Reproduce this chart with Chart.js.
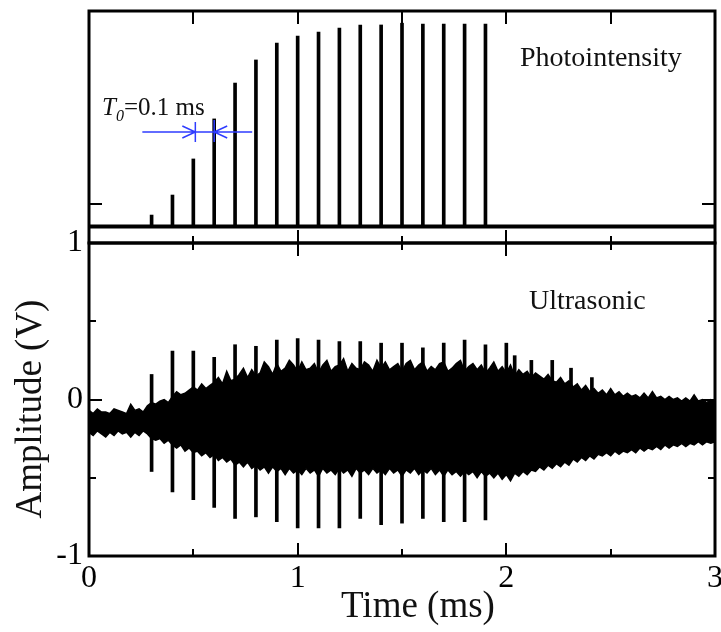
<!DOCTYPE html>
<html><head><meta charset="utf-8">
<script src="https://cdn.jsdelivr.net/npm/chart.js@4/dist/chart.umd.min.js"></script>
<style>
html,body{margin:0;padding:0;background:#fff;}
#wrap{position:relative;width:721px;height:632px;overflow:hidden;background:#fff;}
canvas{position:absolute;left:0;top:0;}
</style></head><body>
<div id="wrap"><canvas id="c1" width="721" height="632"></canvas><canvas id="c2" width="721" height="632"></canvas></div>
<script>
// ---------- data ----------
const xTickValues = [0, 0.5, 1, 1.5, 2, 2.5, 3];
const xTickLabels = ['0', '', '1', '', '2', '', '3'];
const ampTickValues = [-1, -0.5, 0, 0.5, 1];
const ampTickLabels = ['-1', '', '0', '', '1'];
const photoTickValues = [1];

// Photointensity: pulse train (arbitrary units)
const pulseTimes = [0.3, 0.4, 0.5, 0.6, 0.7, 0.8, 0.9, 1.0, 1.1, 1.2, 1.3, 1.4, 1.5, 1.6, 1.7, 1.8, 1.9];
const photoPeaks = [0.52, 1.43, 3.07, 4.89, 6.52, 7.57, 8.34, 8.66, 8.84, 9.02, 9.16, 9.16, 9.24, 9.20, 9.20, 9.20, 9.20];
const photoBaseTimes = [0, 3];
const photoBaseValues = [0, 0];

// Ultrasonic: envelope of the waveform (V)
const usTimes = [0.00,0.02,0.04,0.06,0.08,0.10,0.12,0.14,0.16,0.18,0.20,0.22,0.24,0.26,0.28,0.30,0.32,0.34,0.36,0.38,
0.40,0.42,0.44,0.46,0.48,0.50,0.52,0.54,0.56,0.58,0.60,0.62,0.64,0.66,0.68,0.70,0.72,0.74,0.76,0.78,
0.80,0.82,0.84,0.86,0.88,0.90,0.92,0.94,0.96,0.98,1.00,1.02,1.04,1.06,1.08,1.10,1.12,1.14,1.16,1.18,
1.20,1.22,1.24,1.26,1.28,1.30,1.32,1.34,1.36,1.38,1.40,1.42,1.44,1.46,1.48,1.50,1.52,1.54,1.56,1.58,
1.60,1.62,1.64,1.66,1.68,1.70,1.72,1.74,1.76,1.78,1.80,1.82,1.84,1.86,1.88,1.90,1.92,1.94,1.96,1.98,
2.00,2.02,2.04,2.06,2.08,2.10,2.12,2.14,2.16,2.18,2.20,2.22,2.24,2.26,2.28,2.30,2.32,2.34,2.36,2.38,
2.40,2.42,2.44,2.46,2.48,2.50,2.52,2.54,2.56,2.58,2.60,2.62,2.64,2.66,2.68,2.70,2.72,2.74,2.76,2.78,
2.80,2.82,2.84,2.86,2.88,2.90,2.92,2.94,2.96,2.98,3.00];
const usUpper = [-0.07,-0.09,-0.06,-0.08,-0.08,-0.09,-0.06,-0.07,-0.08,-0.09,-0.03,-0.07,-0.06,-0.08,-0.04,-0.02,-0.03,-0.01,0.00,-0.02,
0.02,0.05,0.03,0.04,0.06,0.08,0.06,0.10,0.07,0.09,0.11,0.14,0.10,0.18,0.12,0.13,0.16,0.20,0.14,0.19,
0.15,0.17,0.24,0.21,0.16,0.23,0.18,0.20,0.25,0.22,0.18,0.24,0.19,0.20,0.23,0.17,0.22,0.25,0.18,0.21,
0.22,0.26,0.18,0.23,0.20,0.19,0.24,0.22,0.18,0.25,0.20,0.24,0.19,0.21,0.23,0.18,0.23,0.25,0.19,0.22,
0.24,0.18,0.21,0.19,0.23,0.24,0.18,0.20,0.23,0.25,0.18,0.21,0.23,0.19,0.22,0.17,0.20,0.24,0.18,0.21,
0.17,0.22,0.15,0.19,0.16,0.18,0.14,0.17,0.15,0.13,0.16,0.12,0.11,0.14,0.10,0.12,0.08,0.10,0.06,0.09,
0.05,0.07,0.04,0.06,0.03,0.07,0.03,0.05,0.02,0.04,0.02,0.03,0.01,0.04,0.01,0.05,0.01,0.02,0.00,0.02,
0.00,0.01,-0.01,0.01,-0.01,0.03,-0.01,0.00,-0.02,0.00,-0.01];
const usLower = [-0.21,-0.23,-0.20,-0.22,-0.24,-0.21,-0.23,-0.20,-0.22,-0.21,-0.24,-0.21,-0.23,-0.20,-0.22,-0.25,-0.26,-0.25,-0.28,-0.26,
-0.29,-0.31,-0.29,-0.33,-0.31,-0.34,-0.33,-0.36,-0.34,-0.37,-0.35,-0.39,-0.37,-0.40,-0.38,-0.42,-0.40,-0.43,-0.40,-0.44,
-0.42,-0.45,-0.43,-0.47,-0.43,-0.46,-0.44,-0.48,-0.44,-0.47,-0.45,-0.48,-0.44,-0.47,-0.45,-0.49,-0.44,-0.47,-0.45,-0.48,
-0.44,-0.47,-0.45,-0.49,-0.44,-0.47,-0.45,-0.48,-0.44,-0.47,-0.45,-0.48,-0.44,-0.47,-0.45,-0.49,-0.45,-0.47,-0.44,-0.48,
-0.45,-0.47,-0.44,-0.48,-0.45,-0.49,-0.45,-0.48,-0.46,-0.49,-0.46,-0.48,-0.46,-0.50,-0.46,-0.49,-0.47,-0.50,-0.47,-0.51,
-0.48,-0.52,-0.47,-0.49,-0.46,-0.48,-0.45,-0.46,-0.43,-0.45,-0.42,-0.44,-0.41,-0.43,-0.40,-0.42,-0.38,-0.40,-0.37,-0.39,
-0.36,-0.38,-0.35,-0.36,-0.34,-0.36,-0.33,-0.35,-0.33,-0.34,-0.32,-0.34,-0.31,-0.33,-0.31,-0.32,-0.30,-0.32,-0.29,-0.31,
-0.29,-0.30,-0.28,-0.30,-0.28,-0.29,-0.27,-0.29,-0.27,-0.28,-0.27];
// Sharp excursions of the ultrasonic trace (V)
const usSpikeTimes = [0.3, 0.4, 0.5, 0.6, 0.7, 0.8, 0.9, 1.0, 1.1, 1.2, 1.3, 1.4, 1.5, 1.6, 1.7, 1.8, 1.9, 2.0, 2.04, 2.12, 2.22, 2.31, 2.41];
const usSpikeHigh = [0.16, 0.31, 0.31, 0.27, 0.35, 0.34, 0.38, 0.39, 0.38, 0.37, 0.37, 0.36, 0.36, 0.33, 0.36, 0.38, 0.35, 0.36, 0.28, 0.25, 0.25, 0.20, 0.14];
const usSpikeLow = [-0.46, -0.59, -0.64, -0.69, -0.76, -0.75, -0.78, -0.82, -0.82, -0.82, -0.76, -0.80, -0.79, -0.76, -0.78, -0.78, -0.77, -0.30, -0.30, -0.30, -0.30, -0.30, -0.30];

// ---------- helpers ----------
const SERIF = '"Liberation Serif", "Times New Roman", serif';
const BLUE = '#2f3cff';

function drawFrameAndTicks(chart, yTicks, topAllLong) {
  const {ctx, chartArea: a, scales} = chart;
  const xs = scales.x, ys = scales.y;
  ctx.save();
  ctx.strokeStyle = '#000';
  ctx.lineWidth = 2;
  ctx.beginPath();
  xTickValues.forEach(v => {
    if (v <= xs.min || v >= xs.max) return;
    const px = Math.round(xs.getPixelForValue(v));
    const major = Number.isInteger(v);
    const lb = major ? 13 : 7;
    const lt = topAllLong ? 13 : lb;
    ctx.moveTo(px, a.bottom); ctx.lineTo(px, a.bottom - lb);
    ctx.moveTo(px, a.top); ctx.lineTo(px, a.top + lt);
  });
  yTicks.forEach(v => {
    if (v <= ys.min || v >= ys.max) return;
    const py = Math.round(ys.getPixelForValue(v));
    const l = Number.isInteger(v) ? 13 : 7;
    ctx.moveTo(a.left, py); ctx.lineTo(a.left + l, py);
    ctx.moveTo(a.right, py); ctx.lineTo(a.right - l, py);
  });
  ctx.stroke();
  ctx.lineWidth = 3;
  ctx.strokeRect(a.left, a.top, a.right - a.left, a.bottom - a.top);
  ctx.restore();
}

const topDeco = {
  id: 'topDeco',
  afterDatasetsDraw(chart) {
    const {ctx, scales} = chart;
    drawFrameAndTicks(chart, photoTickValues, true);
    ctx.save();
    ctx.fillStyle = '#111';
    ctx.textBaseline = 'alphabetic';
    ctx.font = '28px ' + SERIF;
    ctx.fillText('Photointensity', 520, 66);
    // T0 = 0.1 ms annotation
    ctx.font = 'italic 25px ' + SERIF;
    ctx.fillText('T', 102, 115);
    ctx.font = 'italic 16px ' + SERIF;
    ctx.fillText('0', 116, 121);
    ctx.font = '25px ' + SERIF;
    ctx.fillText('=0.1 ms', 124, 115);
    // arrows between two successive pulses
    const x1 = scales.x.getPixelForValue(pulseTimes[2]) + 2;
    const x2 = scales.x.getPixelForValue(pulseTimes[3]);
    const y = 132;
    ctx.strokeStyle = BLUE;
    ctx.lineWidth = 1.5;
    ctx.beginPath();
    ctx.moveTo(x1 - 53, y); ctx.lineTo(x2 + 38, y);
    ctx.moveTo(x1, y - 10); ctx.lineTo(x1, y + 10);
    ctx.moveTo(x2, y - 12); ctx.lineTo(x2, y + 10);
    ctx.moveTo(x1 - 13, y - 6); ctx.lineTo(x1, y); ctx.lineTo(x1 - 13, y + 6);
    ctx.moveTo(x2 + 13, y - 6); ctx.lineTo(x2, y); ctx.lineTo(x2 + 13, y + 6);
    ctx.stroke();
    ctx.restore();
  }
};

const botDeco = {
  id: 'botDeco',
  afterDatasetsDraw(chart) {
    const {ctx} = chart;
    drawFrameAndTicks(chart, ampTickValues, false);
    ctx.save();
    ctx.fillStyle = '#111';
    ctx.font = '28px ' + SERIF;
    ctx.textBaseline = 'alphabetic';
    ctx.fillText('Ultrasonic', 529, 309);
    ctx.font = '37px ' + SERIF;
    ctx.textAlign = 'center';
    ctx.fillText('Time (ms)', 418, 617);
    ctx.translate(31, 409);
    ctx.rotate(-Math.PI / 2);
    ctx.textBaseline = 'middle';
    ctx.fillText('Amplitude (V)', 0, 0);
    ctx.restore();
  }
};

// ---------- top chart: photointensity ----------
new Chart(document.getElementById('c1'), {
  type: 'line',
  data: {
    datasets: [
      {
        type: 'line',
        data: photoBaseTimes.map((t, i) => ({x: t, y: photoBaseValues[i]})),
        borderColor: '#000', borderWidth: 4, pointRadius: 0, fill: false
      },
      {
        type: 'bar',
        data: pulseTimes.map((t, i) => ({x: t, y: [0, photoPeaks[i]]})),
        backgroundColor: '#000', borderWidth: 0, barThickness: 3
      }
    ]
  },
  options: {
    responsive: false, animation: false, devicePixelRatio: 1,
    layout: {padding: {left: 89, top: 11, right: 6, bottom: 389}},
    plugins: {legend: {display: false}, tooltip: {enabled: false}},
    scales: {
      x: {type: 'linear', min: 0, max: 3, display: false, offset: false},
      y: {type: 'linear', min: -0.75, max: 9.795, display: false}
    }
  },
  plugins: [topDeco]
});

// ---------- bottom chart: ultrasonic ----------
new Chart(document.getElementById('c2'), {
  type: 'line',
  data: {
    datasets: [
      {
        type: 'line',
        data: usTimes.map((t, i) => ({x: t, y: usUpper[i]})),
        borderColor: '#000', borderWidth: 1.5, pointRadius: 0, tension: 0,
        backgroundColor: '#000', fill: {value: -0.17}
      },
      {
        type: 'line',
        data: usTimes.map((t, i) => ({x: t, y: usLower[i]})),
        borderColor: '#000', borderWidth: 1.5, pointRadius: 0, tension: 0,
        backgroundColor: '#000', fill: {value: -0.13}
      },
      {
        type: 'bar',
        data: usSpikeTimes.map((t, i) => ({x: t, y: [usSpikeLow[i], usSpikeHigh[i]]})),
        backgroundColor: '#000', borderWidth: 0, barThickness: 3
      }
    ]
  },
  options: {
    responsive: false, animation: false, devicePixelRatio: 1,
    layout: {padding: {left: 0, top: 243, right: 6, bottom: 0}},
    plugins: {legend: {display: false}, tooltip: {enabled: false}},
    scales: {
      x: {
        type: 'linear', min: 0, max: 3, position: 'bottom', offset: false,
        afterBuildTicks: s => { s.ticks = xTickValues.map(v => ({value: v})); },
        ticks: {autoSkip: false, maxRotation: 0, padding: 3, color: '#000',
          font: {family: SERIF, size: 32}, callback: (v, i) => xTickLabels[i]},
        grid: {display: false, drawTicks: false}, border: {display: false},
        afterFit: s => { s.height = 76; s.paddingLeft = 0; s.paddingRight = 0; }
      },
      y: {
        type: 'linear', min: -1, max: 1, position: 'left',
        afterBuildTicks: s => { s.ticks = ampTickValues.map(v => ({value: v})); },
        ticks: {autoSkip: false, padding: 6, color: '#000',
          font: {family: SERIF, size: 32}, callback: (v, i) => ampTickLabels[i]},
        grid: {display: false, drawTicks: false}, border: {display: false},
        afterFit: s => { s.width = 89; s.paddingTop = 0; s.paddingBottom = 0; }
      }
    }
  },
  plugins: [botDeco]
});
</script>
</body></html>
